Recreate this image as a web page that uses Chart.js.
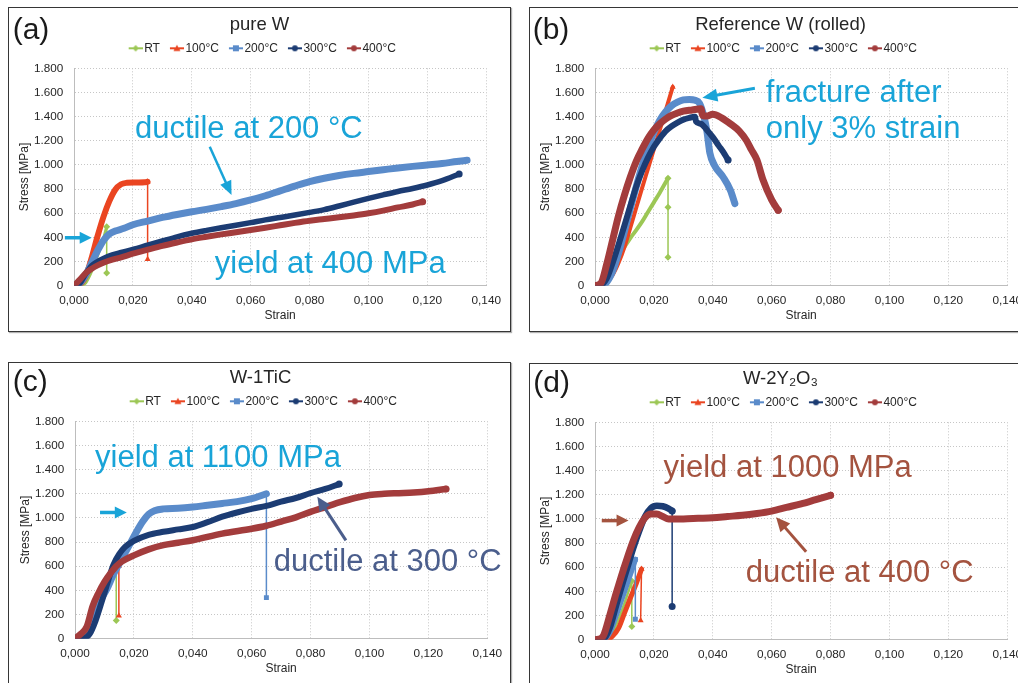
<!DOCTYPE html>
<html><head><meta charset="utf-8">
<script src="https://cdn.jsdelivr.net/npm/chart.js@4.4.0/dist/chart.umd.min.js"></script>
<style>
html,body{margin:0;padding:0;background:#fff;overflow:hidden;width:1018px;height:683px;position:relative;}
.box{position:absolute;border:1.6px solid #363636;box-sizing:border-box;box-shadow:1px 1px 1px rgba(0,0,0,0.3);}
canvas{position:absolute;}
</style></head><body>
<div class="box" style="left:8px;top:7px;width:503px;height:325px"></div>
<div class="box" style="left:529px;top:7px;width:503px;height:325px"></div>
<div class="box" style="left:8px;top:362px;width:503px;height:330px"></div>
<div class="box" style="left:529px;top:363px;width:503px;height:330px"></div>
<canvas id="ca" width="499" height="321" style="left:10px;top:9px"></canvas>
<canvas id="cb" width="499" height="321" style="left:531px;top:9px"></canvas>
<canvas id="cc" width="499" height="321" style="left:11px;top:362px"></canvas>
<canvas id="cd" width="499" height="321" style="left:531px;top:363px"></canvas>
<script>
// ---------- axes / categories ----------
const TEMPS = ['RT', '100°C', '200°C', '300°C', '400°C'];
const STRAIN_MIN = 0, STRAIN_MAX = 0.14, STRAIN_STEP = 0.02;
const STRESS_MIN = 0, STRESS_MAX = 1800, STRESS_STEP = 200;

// ---------- (a) pure W : [strain, stress MPa] ----------
const pureW_RT  = [[0,0],[0.002,0],[0.004,25],[0.006,120],[0.008,250],[0.010,390],[0.0111,488]];
const pureW_RT_frac = [[0.0111,105]];
const pureW_100 = [[0,0],[0.002,10],[0.004,80],[0.006,230],[0.008,410],[0.010,570],[0.012,700],[0.014,795],[0.016,840],[0.018,852],[0.021,855],[0.024,857],[0.025,860]];
const pureW_100_frac = [[0.025,220]];
const pureW_200 = [[0,0],[0.002,20],[0.004,90],[0.006,190],[0.008,290],[0.010,375],[0.012,428],[0.014,452],[0.017,475],[0.020,505],[0.025,535],[0.030,565],[0.035,590],[0.040,612],[0.045,632],[0.050,655],[0.055,680],[0.060,710],[0.065,745],[0.070,785],[0.075,825],[0.080,862],[0.085,890],[0.090,912],[0.095,930],[0.100,945],[0.105,960],[0.110,975],[0.115,988],[0.120,1000],[0.125,1012],[0.130,1028],[0.1335,1038]];
const pureW_200_frac = [];
const pureW_300 = [[0,0],[0.002,20],[0.004,100],[0.006,165],[0.008,200],[0.010,225],[0.013,255],[0.016,275],[0.020,300],[0.025,335],[0.030,370],[0.035,405],[0.040,434],[0.045,458],[0.050,480],[0.055,500],[0.060,522],[0.065,545],[0.070,565],[0.075,585],[0.080,607],[0.085,630],[0.090,660],[0.095,692],[0.100,723],[0.105,752],[0.110,780],[0.115,805],[0.120,834],[0.125,870],[0.1308,925]];
const pureW_300_frac = [];
const pureW_400 = [[0,0],[0.002,50],[0.004,105],[0.006,140],[0.008,168],[0.010,190],[0.013,215],[0.016,235],[0.020,265],[0.025,298],[0.030,330],[0.035,358],[0.040,384],[0.045,405],[0.050,425],[0.055,443],[0.060,461],[0.065,480],[0.070,500],[0.075,520],[0.080,538],[0.085,552],[0.090,566],[0.095,582],[0.100,600],[0.105,622],[0.110,648],[0.115,672],[0.1184,695]];
const pureW_400_frac = [];

// ---------- (b) Reference W (rolled) ----------
const refW_RT  = [[0,0],[0.002,0],[0.004,30],[0.006,130],[0.008,235],[0.010,320],[0.012,395],[0.014,460],[0.016,530],[0.018,610],[0.020,690],[0.022,770],[0.0248,890]];
const refW_RT_frac = [[0.0248,650],[0.0248,235]];
const refW_100 = [[0,0],[0.003,10],[0.006,90],[0.008,190],[0.010,320],[0.012,480],[0.014,645],[0.016,810],[0.018,970],[0.020,1130],[0.022,1290],[0.024,1450],[0.0264,1645]];
const refW_100_frac = [];
const refW_200 = [[0,0],[0.002,0],[0.004,30],[0.006,120],[0.008,270],[0.010,450],[0.012,640],[0.014,820],[0.016,990],[0.018,1140],[0.020,1270],[0.022,1370],[0.024,1440],[0.026,1490],[0.028,1520],[0.030,1538],[0.032,1542],[0.034,1535],[0.0355,1510],[0.037,1400],[0.038,1280],[0.039,1100],[0.0405,1000],[0.0435,900],[0.046,790],[0.0475,680]];
const refW_200_frac = [];
const refW_300 = [[0,0],[0.002,5],[0.004,60],[0.006,190],[0.008,340],[0.010,500],[0.012,660],[0.014,820],[0.016,950],[0.018,1060],[0.020,1150],[0.022,1220],[0.024,1280],[0.026,1320],[0.028,1350],[0.030,1375],[0.032,1390],[0.034,1398],[0.0343,1360],[0.036,1340],[0.038,1290],[0.040,1230],[0.042,1160],[0.044,1090],[0.0452,1040]];
const refW_300_frac = [];
const refW_400 = [[0,0],[0.002,20],[0.004,180],[0.006,380],[0.008,580],[0.010,750],[0.012,900],[0.014,1030],[0.016,1130],[0.018,1220],[0.020,1290],[0.022,1340],[0.024,1380],[0.026,1410],[0.028,1430],[0.030,1445],[0.033,1455],[0.036,1465],[0.0365,1410],[0.038,1405],[0.040,1420],[0.043,1390],[0.046,1340],[0.049,1280],[0.0515,1200],[0.053,1130],[0.055,1040],[0.057,880],[0.060,710],[0.0622,625]];
const refW_400_frac = [];

// ---------- (c) W-1TiC ----------
const tic_RT  = [[0,0],[0.003,10],[0.006,130],[0.008,260],[0.010,380],[0.012,480],[0.014,570]];
const tic_RT_frac = [[0.014,150]];
const tic_100 = [[0,0],[0.003,10],[0.006,130],[0.008,260],[0.010,385],[0.012,490],[0.0149,600]];
const tic_100_frac = [[0.0149,190]];
const tic_200 = [[0,0],[0.002,20],[0.003,20],[0.005,60],[0.007,200],[0.009,330],[0.011,420],[0.013,530],[0.015,620],[0.017,710],[0.019,800],[0.021,890],[0.023,970],[0.025,1030],[0.027,1060],[0.030,1075],[0.035,1080],[0.040,1090],[0.045,1105],[0.050,1120],[0.055,1135],[0.060,1160],[0.065,1200]];
const tic_200_frac = [[0.065,340]];
const tic_300 = [[0,0],[0.003,5],[0.005,40],[0.007,150],[0.009,300],[0.011,460],[0.013,610],[0.015,700],[0.017,760],[0.020,810],[0.025,860],[0.030,885],[0.035,905],[0.040,925],[0.045,965],[0.050,1010],[0.055,1045],[0.060,1075],[0.065,1100],[0.070,1135],[0.075,1165],[0.080,1205],[0.085,1240],[0.0897,1280]];
const tic_300_frac = [];
const tic_400 = [[0,0],[0.002,40],[0.004,100],[0.006,270],[0.008,380],[0.010,470],[0.012,540],[0.014,600],[0.016,640],[0.020,690],[0.025,740],[0.030,775],[0.035,795],[0.040,815],[0.050,870],[0.060,910],[0.065,935],[0.070,970],[0.075,1005],[0.080,1050],[0.085,1090],[0.090,1130],[0.095,1165],[0.100,1190],[0.105,1200],[0.110,1205],[0.115,1210],[0.120,1220],[0.126,1240]];
const tic_400_frac = [];

// ---------- (d) W-2Y2O3 ----------
const yo_RT  = [[0,0],[0.004,5],[0.006,60],[0.008,170],[0.010,300],[0.0125,485]];
const yo_RT_frac = [[0.0125,110]];
const yo_100 = [[0,0],[0.004,0],[0.006,30],[0.008,95],[0.010,220],[0.012,345],[0.014,465],[0.0158,585]];
const yo_100_frac = [[0.0155,160]];
const yo_200 = [[0,0],[0.003,5],[0.005,60],[0.007,190],[0.009,330],[0.011,470],[0.0137,665]];
const yo_200_frac = [[0.0137,170]];
const yo_300 = [[0,0],[0.003,10],[0.005,100],[0.007,270],[0.009,440],[0.011,600],[0.013,760],[0.015,900],[0.017,1020],[0.019,1090],[0.021,1110],[0.023,1105],[0.025,1085],[0.0262,1065]];
const yo_300_frac = [[0.0262,275]];
const yo_400 = [[0,0],[0.002,10],[0.003,40],[0.005,200],[0.007,370],[0.009,530],[0.011,680],[0.013,820],[0.015,930],[0.017,1010],[0.019,1040],[0.021,1040],[0.023,1020],[0.025,1000],[0.030,1000],[0.035,1005],[0.040,1010],[0.045,1020],[0.050,1030],[0.055,1045],[0.060,1065],[0.065,1095],[0.070,1125],[0.075,1160],[0.080,1195]];
const yo_400_frac = [];

// ---------- styles ----------
const COLORS = ['#9cc755', '#ea4521', '#5a8bca', '#1c3c73', '#a33c3c'];
const MARKERS = ['rectRot', 'triangle', 'rect', 'circle', 'circle'];
const CYAN = '#19a4d8', SLATE = '#4b5e8c', RUST = '#a4533f';
const FONT = '"Liberation Sans", Arial, Helvetica, sans-serif';
Chart.defaults.font.family = FONT;

function makeIcon(color, style) {
  const c = document.createElement('canvas');
  c.width = 24; c.height = 10;
  const g = c.getContext('2d');
  g.strokeStyle = color; g.lineWidth = 2;
  g.beginPath(); g.moveTo(10, 5); g.lineTo(24, 5); g.stroke();
  g.fillStyle = color;
  const cx = 17, cy = 5;
  g.beginPath();
  if (style === 'rectRot') { g.moveTo(cx, cy - 3.2); g.lineTo(cx + 3.2, cy); g.lineTo(cx, cy + 3.2); g.lineTo(cx - 3.2, cy); }
  else if (style === 'triangle') { g.moveTo(cx, cy - 3.5); g.lineTo(cx + 3.5, cy + 2.8); g.lineTo(cx - 3.5, cy + 2.8); }
  else if (style === 'rect') { g.rect(cx - 3, cy - 3, 6, 6); }
  else { g.arc(cx, cy, 3, 0, Math.PI * 2); }
  g.closePath(); g.fill();
  return c;
}
const ICONS = COLORS.map((c, i) => makeIcon(c, MARKERS[i]));

function drawArrow(ctx, x1, y1, x2, y2, color, lw, hl, hw) {
  const a = Math.atan2(y2 - y1, x2 - x1);
  const bx = x2 - hl * Math.cos(a), by = y2 - hl * Math.sin(a);
  ctx.strokeStyle = color; ctx.lineWidth = lw; ctx.lineCap = 'butt';
  ctx.beginPath(); ctx.moveTo(x1, y1); ctx.lineTo(bx + Math.cos(a), by + Math.sin(a)); ctx.stroke();
  ctx.fillStyle = color;
  ctx.beginPath();
  ctx.moveTo(x2, y2);
  ctx.lineTo(bx - hw * Math.sin(a), by + hw * Math.cos(a));
  ctx.lineTo(bx + hw * Math.sin(a), by - hw * Math.cos(a));
  ctx.closePath(); ctx.fill();
}

const annotPlugin = {
  id: 'annot',
  afterDraw(chart, args, opts) {
    const ctx = chart.ctx, xs = chart.scales.x, ys = chart.scales.y;
    ctx.save();
    ctx.textBaseline = 'alphabetic'; ctx.textAlign = 'left';
    if (opts.label) {
      ctx.font = '30px ' + FONT; ctx.fillStyle = '#1a1a1a';
      ctx.fillText(opts.label, opts.labelX, opts.labelY);
    }
    (opts.arrows || []).forEach(a => drawArrow(ctx, xs.getPixelForValue(a.x1), ys.getPixelForValue(a.y1),
      xs.getPixelForValue(a.x2), ys.getPixelForValue(a.y2), a.c, a.lw || 3, a.hl || 13, a.hw || 6));
    (opts.texts || []).forEach(t => {
      ctx.font = '31px ' + FONT; ctx.fillStyle = t.c;
      ctx.fillText(t.t, xs.getPixelForValue(t.x), ys.getPixelForValue(t.y));
    });
    ctx.restore();
  }
};

function fmtStress(v) {
  if (v >= 1000) return Math.floor(v / 1000) + '.' + String(v % 1000).padStart(3, '0');
  return String(v);
}

function makeChart(id, title, curves, fracs, widths, annot) {
  const datasets = [];
  curves.forEach((cv, i) => {
    datasets.push({
      label: TEMPS[i],
      data: cv.map(p => ({x: p[0], y: p[1]})),
      borderColor: COLORS[i], backgroundColor: COLORS[i],
      borderWidth: widths[i], pointRadius: 0, pointHoverRadius: 0,
      borderCapStyle: 'round', borderJoinStyle: 'round',
      cubicInterpolationMode: 'monotone', fill: false, order: 10 - i
    });
    const last = cv[cv.length - 1];
    datasets.push({
      label: TEMPS[i] + ' fracture', isDrop: true,
      data: [last].concat(fracs[i]).map(p => ({x: p[0], y: p[1]})),
      borderColor: COLORS[i], backgroundColor: COLORS[i],
      borderWidth: 1.5, pointRadius: 3.5, pointHoverRadius: 0,
      pointStyle: MARKERS[i], pointBorderWidth: 0,
      tension: 0, fill: false, order: 10 - i
    });
  });
  return new Chart(document.getElementById(id), {
    type: 'line',
    data: {datasets},
    plugins: [annotPlugin],
    options: {
      responsive: false, animation: false, devicePixelRatio: 1,
      events: [],
      layout: {padding: {left: 22, right: 22, top: 0, bottom: 0}},
      plugins: {
        tooltip: {enabled: false},
        title: {display: true, text: title, color: '#262626',
          font: {size: 18.5, weight: 'normal', lineHeight: 1.2}, padding: {top: 4.4, bottom: 2.2}},
        subtitle: {display: true, text: '', weight: 500, font: {size: 1, lineHeight: 1}, padding: {top: 3, bottom: 0}},
        legend: {display: true, position: 'top',
          labels: {usePointStyle: true, pointStyleWidth: 15, padding: 4.5, color: '#262626',
            font: {size: 12},
            generateLabels: () => TEMPS.map((t, i) => ({text: t, pointStyle: ICONS[i], fillStyle: COLORS[i],
              strokeStyle: COLORS[i], lineWidth: 0, hidden: false, datasetIndex: i * 2, fontColor: '#262626'}))}},
        annot: annot
      },
      scales: {
        x: {type: 'linear', min: STRAIN_MIN, max: STRAIN_MAX,
          afterFit: s => { s.height = 44.3; },
          ticks: {stepSize: STRAIN_STEP, padding: 8, color: '#262626', font: {size: 11.8},
            maxRotation: 0, autoSkip: false, callback: v => Number(v).toFixed(3).replace('.', ',')},
          grid: {color: '#c6c6c6', lineWidth: 1, drawTicks: false},
          border: {display: true, color: '#bdbdbd', width: 1, dash: [1, 2]},
          title: {display: true, text: 'Strain', color: '#262626', font: {size: 12}, padding: {top: 0, bottom: 6.8}}},
        y: {type: 'linear', min: STRESS_MIN, max: STRESS_MAX,
          afterFit: s => { s.width = 42; },
          ticks: {stepSize: STRESS_STEP, padding: 10.7, color: '#262626', font: {size: 11.7}, callback: v => fmtStress(v)},
          grid: {color: '#c6c6c6', lineWidth: 1, drawTicks: false},
          border: {display: true, color: '#bdbdbd', width: 1, dash: [1, 2]},
          title: {display: true, text: 'Stress [MPa]', color: '#262626', font: {size: 12}, padding: {top: -14.9, bottom: 0}}}
      }
    }
  });
}

makeChart('ca', 'pure W',
  [pureW_RT, pureW_100, pureW_200, pureW_300, pureW_400],
  [pureW_RT_frac, pureW_100_frac, pureW_200_frac, pureW_300_frac, pureW_400_frac],
  [3, 6, 7, 5.5, 6],
  {label: '(a)', labelX: 2.7, labelY: 29.7,
   texts: [{t: 'ductile at 200 °C', x: 0.0207, y: 1223, c: CYAN}, {t: 'yield at 400 MPa', x: 0.0478, y: 108, c: CYAN}],
   arrows: [{x1: 0.0461, y1: 1151, x2: 0.0535, y2: 751, c: CYAN, lw: 2.5, hl: 14, hw: 6},
            {x1: -0.0031, y1: 397, x2: 0.006, y2: 397, c: CYAN, lw: 3.5, hl: 12, hw: 6}]});

makeChart('cb', 'Reference W (rolled)',
  [refW_RT, refW_100, refW_200, refW_300, refW_400],
  [refW_RT_frac, refW_100_frac, refW_200_frac, refW_300_frac, refW_400_frac],
  [4, 4, 7, 6, 7],
  {label: '(b)', labelX: 1.7, labelY: 29.7,
   texts: [{t: 'fracture after', x: 0.058, y: 1522, c: CYAN}, {t: 'only 3% strain', x: 0.058, y: 1227, c: CYAN}],
   arrows: [{x1: 0.0543, y1: 1634, x2: 0.03646, y2: 1556, c: CYAN, lw: 3, hl: 15, hw: 6.5}]});

makeChart('cc', 'W-1TiC',
  [tic_RT, tic_100, tic_200, tic_300, tic_400],
  [tic_RT_frac, tic_100_frac, tic_200_frac, tic_300_frac, tic_400_frac],
  [2, 2, 7, 6, 6.5],
  {label: '(c)', labelX: 1.7, labelY: 29,
   texts: [{t: 'yield at 1100 MPa', x: 0.0068, y: 1425, c: CYAN}, {t: 'ductile at 300 °C', x: 0.0675, y: 564, c: SLATE}],
   arrows: [{x1: 0.0085, y1: 1045, x2: 0.0176, y2: 1045, c: CYAN, lw: 3.5, hl: 12, hw: 6},
            {x1: 0.092, y1: 814, x2: 0.0823, y2: 1175, c: SLATE, lw: 3, hl: 14, hw: 6.5}]});

makeChart('cd', 'W-2Y₂O₃',
  [yo_RT, yo_100, yo_200, yo_300, yo_400],
  [yo_RT_frac, yo_100_frac, yo_200_frac, yo_300_frac, yo_400_frac],
  [2.5, 5, 5.5, 6.5, 7],
  {label: '(d)', labelX: 2.3, labelY: 28.7,
   texts: [{t: 'yield at 1000 MPa', x: 0.0233, y: 1343, c: RUST}, {t: 'ductile at 400 °C', x: 0.0512, y: 477, c: RUST}],
   arrows: [{x1: 0.0023, y1: 986, x2: 0.0114, y2: 986, c: RUST, lw: 3.5, hl: 12, hw: 6},
            {x1: 0.0717, y1: 729, x2: 0.0615, y2: 1013, c: RUST, lw: 3, hl: 14, hw: 6.5}]});
</script>
</body></html>
